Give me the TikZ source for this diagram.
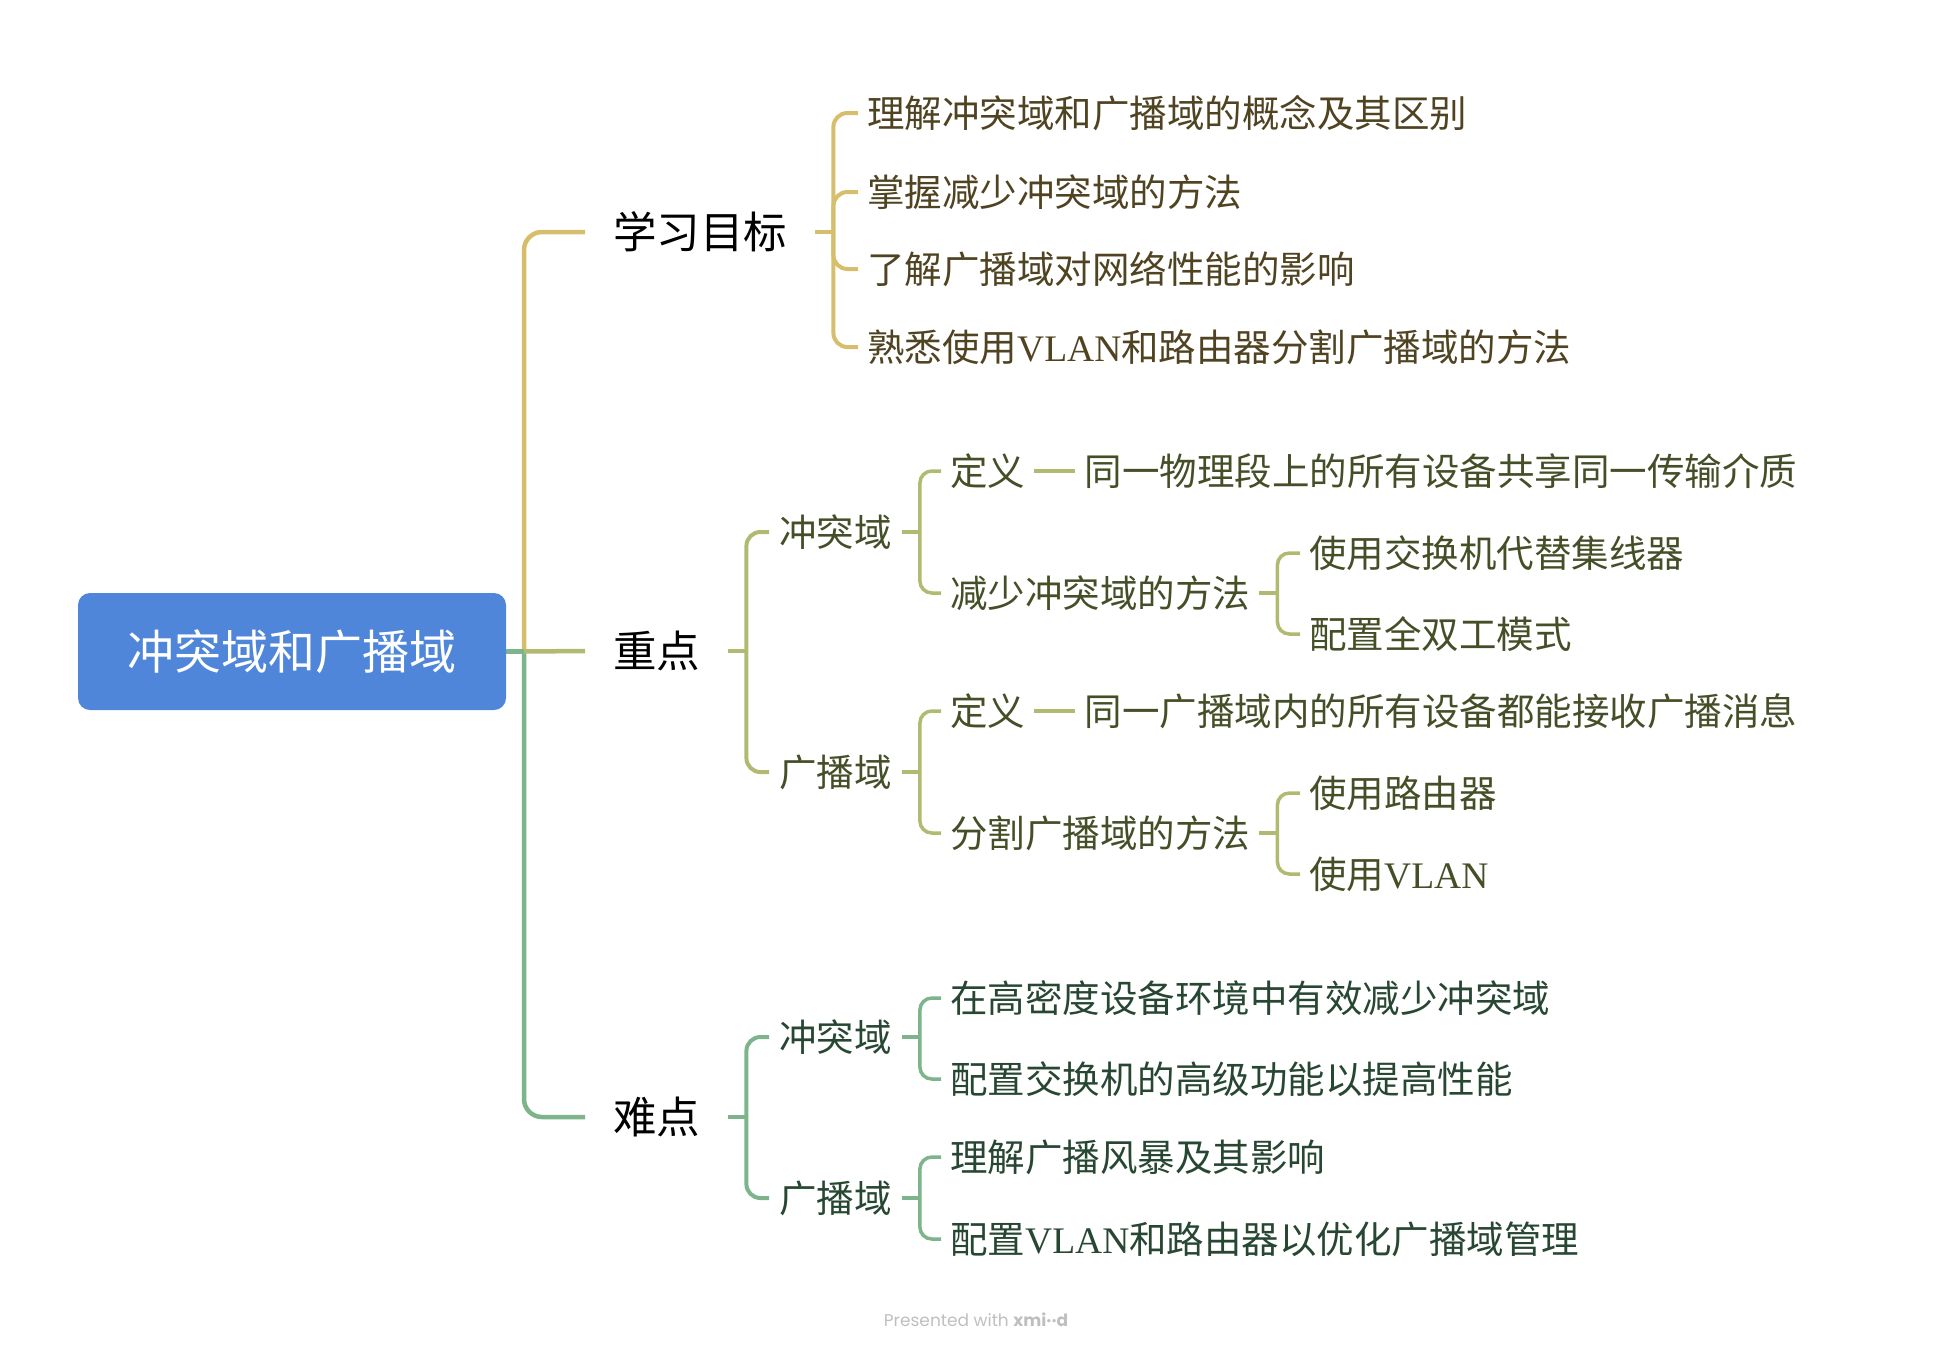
\documentclass[tikz,border=0pt]{standalone}
\usepackage{fontspec}
\setmainfont{Liberation Serif}
\newfontfamily\cjk{Noto Sans CJK SC}
\newfontfamily\markfont{Poppins}
\usetikzlibrary{positioning}

\definecolor{rootblue}{HTML}{4F86DA}
\definecolor{goldline}{HTML}{D6BE6C}
\definecolor{goldtext}{HTML}{4F4321}
\definecolor{oliveline}{HTML}{B1BA70}
\definecolor{olivetext}{HTML}{454F27}
\definecolor{greenline}{HTML}{7DB48C}
\definecolor{greentext}{HTML}{274733}

\newcommand{\en}[1]{{\rmfamily #1}}

\begin{document}
\begin{tikzpicture}[
  x=1pt, y=-1pt,
  every node/.style={inner sep=0pt},
  central/.style={rectangle, rounded corners=12pt, fill=rootblue, text=white, minimum width=428pt, minimum height=117pt, font=\cjk\fontsize{47}{56}\selectfont},
  topic/.style={anchor=west, inner xsep=28pt, text=black, font=\cjk\fontsize{43.5}{52}\selectfont},
  subtopic/.style={anchor=west, inner xsep=10pt, font=\cjk\fontsize{37.5}{45}\selectfont},
  leaf/.style={anchor=west, inner xsep=9pt, font=\cjk\fontsize{37.5}{45}\selectfont},
  mainline/.style={line width=4.5pt, rounded corners=18pt},
  branchline/.style={line width=4pt, rounded corners=14pt},
  twigline/.style={line width=3.5pt, rounded corners=12pt},
  credit/.style={text=black!25, font=\markfont\fontsize{17}{20}\selectfont}
]
\useasboundingbox (0,0) rectangle (1953,1350);

\node[central] (center) at (292,651.5) {冲突域和广播域};
\coordinate (hub) at (524,651.5);

\node[topic] (goals) at (585,232)  {学习目标};
\node[topic] (focus) at (585,651)  {重点};
\node[topic] (hard)  at (585,1117) {难点};

% 学习目标
\node[leaf, text=goldtext] (g1) at (858,113) {理解冲突域和广播域的概念及其区别};
\node[leaf, text=goldtext] (g2) at (858,192) {掌握减少冲突域的方法};
\node[leaf, text=goldtext] (g3) at (858,269) {了解广播域对网络性能的影响};
\node[leaf, text=goldtext] (g4) at (858,347) {熟悉使用\en{VLAN}和路由器分割广播域的方法};

% 重点
\node[subtopic, text=olivetext] (fcol) at (769,532) {冲突域};
\node[subtopic, text=olivetext] (fbc)  at (769,772) {广播域};
\node[leaf, text=olivetext] (fcdef) at (941,471) {定义};
\node[leaf, text=olivetext, right=41pt of fcdef] (fcnote) {同一物理段上的所有设备共享同一传输介质};
\node[leaf, text=olivetext] (fcred) at (941,593) {减少冲突域的方法};
\node[leaf, text=olivetext] (fr1) at (1300,553) {使用交换机代替集线器};
\node[leaf, text=olivetext] (fr2) at (1300,634) {配置全双工模式};
\node[leaf, text=olivetext] (fbdef) at (941,711) {定义};
\node[leaf, text=olivetext, right=41pt of fbdef] (fbnote) {同一广播域内的所有设备都能接收广播消息};
\node[leaf, text=olivetext] (fbsplit) at (941,833) {分割广播域的方法};
\node[leaf, text=olivetext] (fs1) at (1300,793) {使用路由器};
\node[leaf, text=olivetext] (fs2) at (1300,874) {使用\en{VLAN}};

% 难点
\node[subtopic, text=greentext] (hcol) at (769,1037) {冲突域};
\node[subtopic, text=greentext] (hbc)  at (769,1198) {广播域};
\node[leaf, text=greentext] (hc1) at (941,998)  {在高密度设备环境中有效减少冲突域};
\node[leaf, text=greentext] (hc2) at (941,1079) {配置交换机的高级功能以提高性能};
\node[leaf, text=greentext] (hb1) at (941,1157) {理解广播风暴及其影响};
\node[leaf, text=greentext] (hb2) at (941,1239) {配置\en{VLAN}和路由器以优化广播域管理};

\node[credit] (mark) at (976,1320) {Presented with \textbf{xmi··d}};

% trunk
\draw[mainline, goldline] (hub) |- (goals.west);
\draw[mainline, greenline] (hub) |- (hard.west);
\draw[mainline, oliveline] (hub) -- (focus.west);
\draw[mainline, greenline] (center.east) -- (hub);

% 学习目标 lines
\draw[branchline, goldline] (goals.east) -- ++(18,0) coordinate (goalsfork);
\draw[branchline, goldline] (goalsfork) |- (g1.west);
\draw[branchline, goldline] (goalsfork) |- (g2.west);
\draw[branchline, goldline] (goalsfork) |- (g3.west);
\draw[branchline, goldline] (goalsfork) |- (g4.west);

% 重点 lines
\draw[branchline, oliveline] (focus.east) -- ++(18,0) coordinate (focusfork);
\draw[branchline, oliveline] (focusfork) |- (fcol.west);
\draw[branchline, oliveline] (focusfork) |- (fbc.west);
\draw[twigline, oliveline] (fcol.east) -- ++(18,0) coordinate (fcolfork);
\draw[twigline, oliveline] (fcolfork) |- (fcdef.west);
\draw[twigline, oliveline] (fcolfork) |- (fcred.west);
\draw[twigline, oliveline] (fcdef) -- (fcnote);
\draw[twigline, oliveline] (fcred.east) -- ++(18,0) coordinate (fcredfork);
\draw[twigline, oliveline] (fcredfork) |- (fr1.west);
\draw[twigline, oliveline] (fcredfork) |- (fr2.west);
\draw[twigline, oliveline] (fbc.east) -- ++(18,0) coordinate (fbcfork);
\draw[twigline, oliveline] (fbcfork) |- (fbdef.west);
\draw[twigline, oliveline] (fbcfork) |- (fbsplit.west);
\draw[twigline, oliveline] (fbdef) -- (fbnote);
\draw[twigline, oliveline] (fbsplit.east) -- ++(18,0) coordinate (fbsplitfork);
\draw[twigline, oliveline] (fbsplitfork) |- (fs1.west);
\draw[twigline, oliveline] (fbsplitfork) |- (fs2.west);

% 难点 lines
\draw[branchline, greenline] (hard.east) -- ++(18,0) coordinate (hardfork);
\draw[branchline, greenline] (hardfork) |- (hcol.west);
\draw[branchline, greenline] (hardfork) |- (hbc.west);
\draw[twigline, greenline] (hcol.east) -- ++(18,0) coordinate (hcolfork);
\draw[twigline, greenline] (hcolfork) |- (hc1.west);
\draw[twigline, greenline] (hcolfork) |- (hc2.west);
\draw[twigline, greenline] (hbc.east) -- ++(18,0) coordinate (hbcfork);
\draw[twigline, greenline] (hbcfork) |- (hb1.west);
\draw[twigline, greenline] (hbcfork) |- (hb2.west);
\end{tikzpicture}
\end{document}
